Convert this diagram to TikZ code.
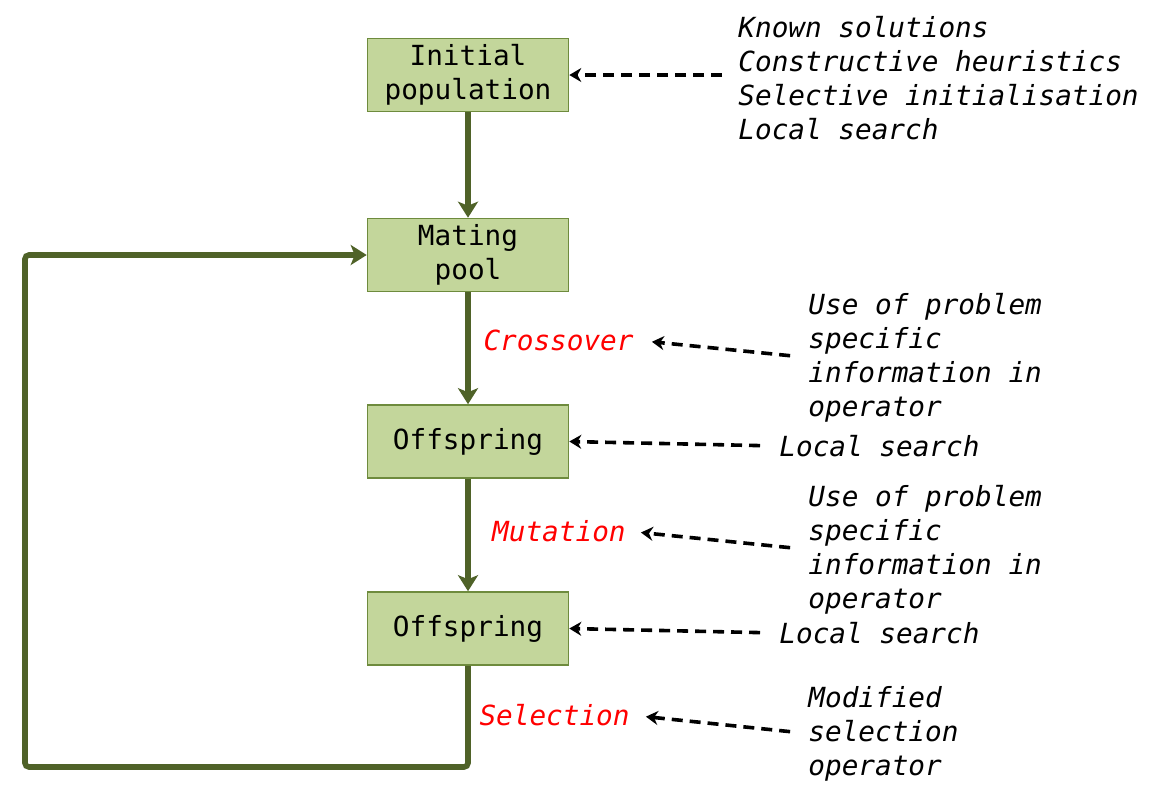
\documentclass[tikz,border=0pt]{standalone}
\usepackage{fontspec}
\setmonofont{DejaVu Sans Mono}
\usepackage{tikz}
\usetikzlibrary{arrows.meta}

\definecolor{boxfill}{HTML}{C3D69B}
\definecolor{boxline}{HTML}{6E8B3D}
\definecolor{flowgreen}{HTML}{4F6228}

\begin{document}
\begin{tikzpicture}[x=0.5pt, y=-0.5pt,
  font=\ttfamily\fontsize{13.85}{17}\selectfont,
  stage/.style={draw=boxline, fill=boxfill, line width=0.8pt, minimum width=100.5pt, minimum height=36.5pt, align=center, inner sep=0pt},
  flow/.style={draw=flowgreen, line width=2.8pt, -{Stealth[length=8pt,width=10pt,inset=2pt]}},
  hint/.style={black, line width=1.8pt, dash pattern=on 5.5pt off 3.5pt, -{Stealth[length=6pt,width=7pt]}},
  note/.style={align=left, inner sep=0pt, font=\ttfamily\itshape\fontsize{13.85}{17}\selectfont},
  op/.style={inner sep=0pt, text=red, font=\ttfamily\itshape\fontsize{13.85}{17}\selectfont}]
\useasboundingbox (0,0) rectangle (1154,788);

\node[stage] (init) at (468,75) {Initial\\population};
\node[stage] (mate) at (468,255) {Mating\\pool};
\node[stage] (off1) at (468,441.5) {Offspring};
\node[stage] (off2) at (468,628.5) {Offspring};

\draw[flow] (init.south) -- (mate.north);
\draw[flow] (mate.south) -- (off1.north);
\draw[flow] (off1.south) -- (off2.north);
\coordinate (loop) at (25,767);
\draw[flow, rounded corners=2pt] (off2.south) |- (loop) |- (mate.west);

\node[op, anchor=east] (cross) at (634,340) {Crossover};
\node[op, anchor=east] (mut) at (626,531) {Mutation};
\node[op, anchor=east] (sel) at (630,715) {Selection};

\node[note, anchor=west] (known) at (738,78) {Known solutions\\Constructive heuristics\\Selective initialisation\\Local search};
\node[note, anchor=west] (useA) at (808,357.5) {Use of problem\\specific\\information in\\operator};
\node[note, anchor=west] (localA) at (779,446) {Local search};
\node[note, anchor=west] (useB) at (808,549.5) {Use of problem\\specific\\information in\\operator};
\node[note, anchor=west] (localB) at (779,633) {Local search};
\node[note, anchor=west] (modsel) at (808,733.5) {Modified\\selection\\operator};

\draw[hint, shorten <=8pt] (known.west |- init.east) -- (init.east);
\draw[hint, shorten <=9pt, shorten >=9pt] (useA.west) -- (cross.east);
\draw[hint, shorten <=9.5pt] (localA.west) -- (off1.east);
\draw[hint, shorten <=9pt, shorten >=7.5pt] (useB.west) -- (mut.east);
\draw[hint, shorten <=9.5pt] (localB.west) -- (off2.east);
\draw[hint, shorten <=9pt, shorten >=8pt] (modsel.west) -- (sel.east);
\end{tikzpicture}
\end{document}
